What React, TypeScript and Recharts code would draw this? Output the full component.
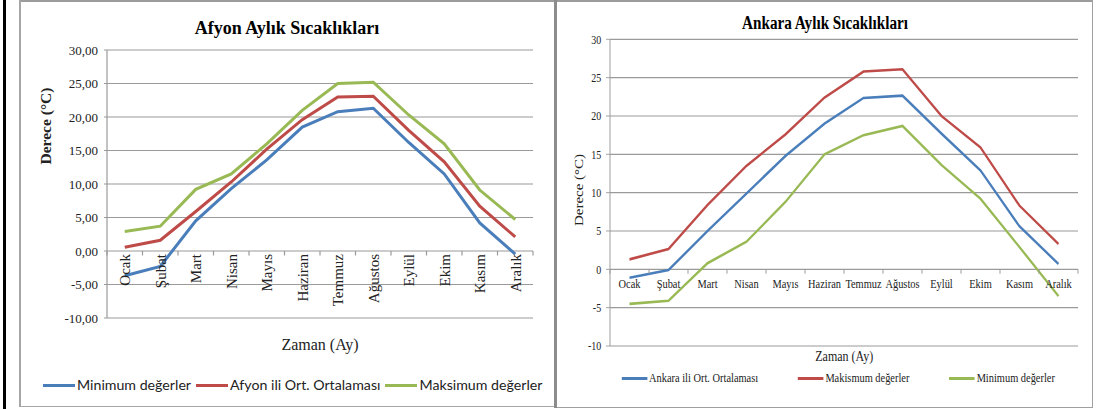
import React from 'react';
import { LineChart, Line, XAxis, YAxis, CartesianGrid, ReferenceDot, Legend } from 'recharts';

// ---------- data ----------
const months = ['Ocak', 'Şubat', 'Mart', 'Nisan', 'Mayıs', 'Haziran', 'Temmuz', 'Ağustos', 'Eylül', 'Ekim', 'Kasım', 'Aralık'];

const afyonMin = [-3.7, -2.3, 4.5, 9.3, 13.6, 18.5, 20.8, 21.3, 16.2, 11.5, 4.2, -0.45];
const afyonAvg = [0.55, 1.6, 5.9, 10.3, 15.2, 19.6, 23.0, 23.1, 18.0, 13.3, 6.7, 2.1];
const afyonMax = [2.9, 3.7, 9.2, 11.5, 16.0, 21.0, 25.0, 25.2, 20.3, 16.0, 9.1, 4.7];

const ankaraAvg = [-1.1, -0.1, 5.0, 9.9, 14.8, 19.0, 22.35, 22.65, 17.7, 12.9, 5.6, 0.7];
const ankaraMax = [1.3, 2.65, 8.4, 13.5, 17.6, 22.4, 25.8, 26.1, 20.0, 15.9, 8.3, 3.3];
const ankaraMin = [-4.5, -4.1, 0.8, 3.6, 8.8, 15.0, 17.5, 18.7, 13.6, 9.2, 2.9, -3.5];

const yTicks = [-10, -5, 0, 5, 10, 15, 20, 25, 30];

const afyonSeries = [
  { key: 'min', name: 'Minimum değerler', values: afyonMin },
  { key: 'avg', name: 'Afyon ili Ort. Ortalaması', values: afyonAvg },
  { key: 'max', name: 'Maksimum değerler', values: afyonMax },
];
const ankaraSeries = [
  { key: 'avg', name: 'Ankara ili Ort. Ortalaması', values: ankaraAvg },
  { key: 'max', name: 'Makismum değerler', values: ankaraMax },
  { key: 'min', name: 'Minimum değerler', values: ankaraMin },
];

// ---------- styles ----------
const COLORS: Record<string, string> = { min: '#4A7EBB', avg: '#BE4B48', max: '#98B954' };
const ANKARA_COLORS: Record<string, string> = { avg: '#4A7EBB', max: '#BE4B48', min: '#98B954' };
const GRID = '#9a9a9a';
const SERIF = "'Liberation Serif', 'Times New Roman', serif";
const SANS = "Lato, Carlito, 'Liberation Sans', sans-serif";

function buildData(series: { key: string; values: number[] }[]) {
  return months.map((m, i) => {
    const row: Record<string, string | number> = { month: m };
    series.forEach((s) => { row[s.key] = s.values[i]; });
    return row;
  });
}
const afyonData = buildData(afyonSeries);
const ankaraData = buildData(ankaraSeries);

const fmtComma = (v: number) => v.toFixed(2).replace('.', ',');

// ---------- layout (left) ----------
const L_W = 555, L_H = 409;
const L_MARGIN = { top: 50, right: 22, bottom: 91, left: 0 };
const L_YW = 107;
const L_BW = (L_W - L_MARGIN.left - L_MARGIN.right - L_YW) / months.length;

// ---------- layout (right, drawn wide then squeezed) ----------
const SQ = 0.8;
const R_W = 670, R_H = 409;
const R_MARGIN = { top: 39.3, right: 18.75, bottom: 63, left: 0 };
const R_YW = 66.25;
const R_BW = (R_W - R_MARGIN.left - R_MARGIN.right - R_YW) / months.length;

function makeMonthLabel(text: string, bw: number, last: boolean, rotated: boolean) {
  return (props: any) => {
    const vb = props.viewBox || {};
    const cx = (vb.x ?? 0) + (vb.width ?? 0) / 2;
    const cy = (vb.y ?? 0) + (vb.height ?? 0) / 2;
    return (
      <g>
        <line x1={cx - bw / 2} y1={cy} x2={cx - bw / 2} y2={cy + 4.5} stroke={GRID} strokeWidth={1.2} />
        {last && <line x1={cx + bw / 2} y1={cy} x2={cx + bw / 2} y2={cy + 4.5} stroke={GRID} strokeWidth={1.2} />}
        {rotated ? (
          <text
            transform={`translate(${cx},${cy + 3}) rotate(-90)`}
            textAnchor="end"
            dy="0.35em"
            fontSize={15}
            fontFamily={SERIF}
            fill="#222"
          >
            {text}
          </text>
        ) : (
          <text x={cx} y={cy + 18.5} textAnchor="middle" fontSize={13} fontFamily={SERIF} fill="#222">
            {text}
          </text>
        )}
      </g>
    );
  };
}

function makeLegend(series: { key: string; name: string }[], colors: Record<string, string>, opts: any) {
  return (props: any) => {
    const payload: any[] = props.payload || [];
    const items = series
      .map((s) => payload.find((p) => p.dataKey === s.key))
      .filter(Boolean);
    return (
      <div style={{ display: 'flex', alignItems: 'center', height: 20, paddingLeft: opts.padLeft, gap: opts.gap }}>
        {items.map((p: any) => (
          <div key={p.dataKey} style={{ display: 'flex', alignItems: 'center' }}>
            <div style={{ width: 32, height: 3, background: colors[p.dataKey] || p.color, marginRight: opts.lineGap }} />
            <span style={{ fontFamily: opts.font, fontSize: opts.fontSize, color: '#222', whiteSpace: 'nowrap', lineHeight: '20px' }}>
              {p.value}
            </span>
          </div>
        ))}
      </div>
    );
  };
}

function AfyonChart() {
  return (
    <div style={{ position: 'absolute', left: 0, top: 0, width: L_W, height: L_H }}>
      <LineChart width={L_W} height={L_H} data={afyonData} margin={L_MARGIN}>
        <CartesianGrid vertical={false} stroke={GRID} strokeWidth={1.2} />
        <XAxis dataKey="month" hide padding={{ left: L_BW / 2, right: L_BW / 2 }} />
        <YAxis
          width={L_YW}
          domain={[-10, 30]}
          ticks={yTicks}
          interval={0}
          tickFormatter={fmtComma}
          axisLine={{ stroke: GRID, strokeWidth: 1.2 }}
          tickLine={{ stroke: GRID }}
          tickSize={3}
          tickMargin={6}
          tick={{ fontSize: 13, fill: '#222', fontFamily: SERIF }}
        />
        {months.map((m, i) => (
          <ReferenceDot
            key={m}
            x={m}
            y={0}
            r={0}
            fill="none"
            stroke="none"
            label={makeMonthLabel(m, L_BW, i === months.length - 1, true)}
          />
        ))}
        {afyonSeries.map((s) => (
          <Line
            key={s.key}
            type="linear"
            dataKey={s.key}
            name={s.name}
            stroke={COLORS[s.key]}
            strokeWidth={3}
            dot={false}
            activeDot={false}
            isAnimationActive={false}
          />
        ))}
        <Legend
          layout="vertical"
          align="center"
          verticalAlign="middle"
          wrapperStyle={{ left: 0, top: 375, width: L_W, height: 20 }}
          content={makeLegend(afyonSeries, COLORS, { padLeft: 43, gap: 5, lineGap: 2, font: SANS, fontSize: 14.2 })}
        />
      </LineChart>
      <svg width={L_W} height={L_H} style={{ position: 'absolute', left: 0, top: 0, pointerEvents: 'none' }}>
        <text x={287} y={34} textAnchor="middle" fontFamily={SERIF} fontWeight="bold" fontSize={18} fill="#000">
          Afyon Aylık Sıcaklıkları
        </text>
        <text transform="translate(46,126) rotate(-90)" textAnchor="middle" dy="0.35em" fontFamily={SERIF} fontWeight="bold" fontSize={15.5} fill="#222">
          Derece (°C)
        </text>
        <text x={320} y={350} textAnchor="middle" fontFamily={SERIF} fontSize={16} fill="#222">
          Zaman (Ay)
        </text>
      </svg>
    </div>
  );
}

function AnkaraChart() {
  return (
    <div
      style={{
        position: 'absolute',
        left: 557,
        top: 0,
        width: R_W,
        height: R_H,
        transform: `scaleX(${SQ})`,
        transformOrigin: '0 0',
      }}
    >
      <LineChart width={R_W} height={R_H} data={ankaraData} margin={R_MARGIN}>
        <CartesianGrid vertical={false} stroke={GRID} strokeWidth={1.2} />
        <XAxis dataKey="month" hide padding={{ left: R_BW / 2, right: R_BW / 2 }} />
        <YAxis
          width={R_YW}
          domain={[-10, 30]}
          ticks={yTicks}
          interval={0}
          axisLine={{ stroke: GRID, strokeWidth: 1.2 }}
          tickLine={{ stroke: GRID }}
          tickSize={5}
          tickMargin={6}
          tick={{ fontSize: 12.5, fill: '#222', fontFamily: SERIF }}
        />
        {months.map((m, i) => (
          <ReferenceDot
            key={m}
            x={m}
            y={0}
            r={0}
            fill="none"
            stroke="none"
            label={makeMonthLabel(m, R_BW, i === months.length - 1, false)}
          />
        ))}
        {ankaraSeries.map((s) => (
          <Line
            key={s.key}
            type="linear"
            dataKey={s.key}
            name={s.name}
            stroke={ANKARA_COLORS[s.key]}
            strokeWidth={2.6}
            dot={false}
            activeDot={false}
            isAnimationActive={false}
          />
        ))}
        <Legend
          layout="vertical"
          align="center"
          verticalAlign="middle"
          wrapperStyle={{ left: 0, top: 368, width: R_W, height: 20 }}
          content={makeLegend(ankaraSeries, ANKARA_COLORS, { padLeft: 80.5, gap: 49.5, lineGap: 2.5, font: SERIF, fontSize: 13 })}
        />
      </LineChart>
      <svg width={R_W} height={R_H} style={{ position: 'absolute', left: 0, top: 0, pointerEvents: 'none' }}>
        <text x={335} y={29} textAnchor="middle" fontFamily={SERIF} fontWeight="bold" fontSize={19} fill="#000">
          Ankara Aylık Sıcaklıkları
        </text>
        <text transform="translate(27,190) rotate(-90)" textAnchor="middle" dy="0.35em" fontFamily={SERIF} fontSize={15} fill="#222">
          Derece (°C)
        </text>
        <text x={359} y={361} textAnchor="middle" fontFamily={SERIF} fontSize={15} fill="#222">
          Zaman (Ay)
        </text>
      </svg>
    </div>
  );
}

export default function App() {
  return (
    <div style={{ position: 'absolute', left: 0, top: 0, width: 1097, height: 409, background: '#fff', overflow: 'hidden' }}>
      {/* frames */}
      <div style={{ position: 'absolute', left: 3, top: 0, width: 3, height: 409, background: '#000' }} />
      <div style={{ position: 'absolute', left: 19, top: 0, width: 1074, height: 1.5, background: '#9c9c9c' }} />
      <div style={{ position: 'absolute', left: 19, top: 0, width: 1.5, height: 407, background: '#a6a6a6' }} />
      <div style={{ position: 'absolute', left: 19, top: 405.5, width: 536, height: 1.5, background: '#a6a6a6' }} />
      <div style={{ position: 'absolute', left: 554, top: 0, width: 3, height: 408, background: '#8c8c8c' }} />
      <div style={{ position: 'absolute', left: 557, top: 406.5, width: 536, height: 1.2, background: '#a0a0a0' }} />
      <div style={{ position: 'absolute', left: 1092, top: 0, width: 1.2, height: 408, background: '#a0a0a0' }} />
      <AfyonChart />
      <AnkaraChart />
    </div>
  );
}
